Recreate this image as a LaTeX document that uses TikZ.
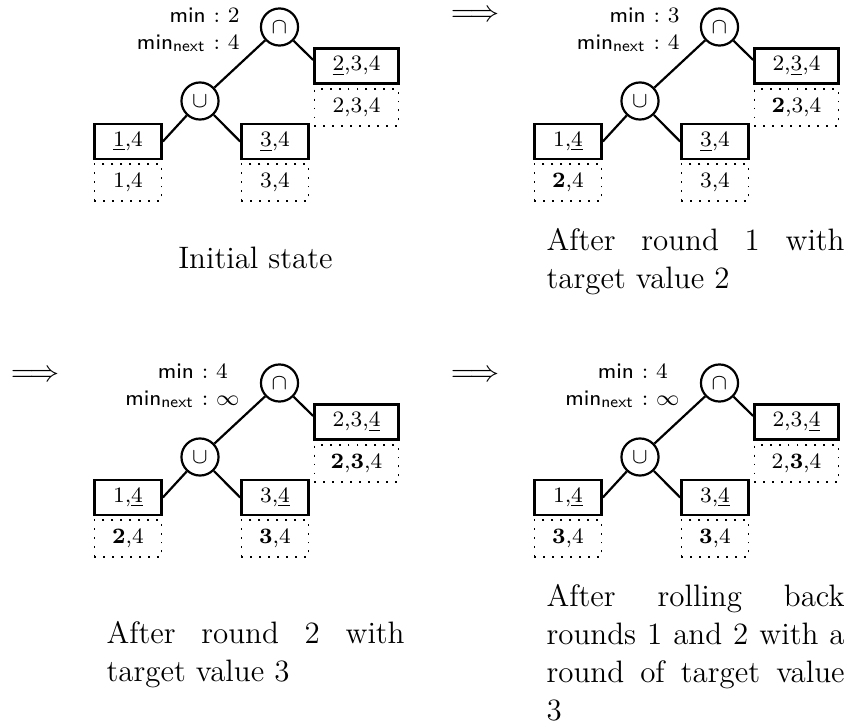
\documentclass[tikz,border=0pt]{standalone}
\usepackage{amsmath}
\newcommand{\capfont}{\fontsize{11.28}{13.9}\selectfont\hyphenpenalty=10000\relax}
\newcommand{\arrowfont}{\fontsize{10.5}{12.6}\selectfont}
\newcommand{\smallfont}{\fontsize{8}{9.5}\selectfont}
\tikzset{
  setop/.style={circle, draw, line width=0.8pt, minimum size=13.5pt, inner sep=0pt, font=\smallfont},
  valbox/.style={draw, line width=0.95pt, minimum height=12.7pt, inner sep=0pt, font=\smallfont},
  histbox/.style={draw, line width=0.7pt, dash pattern=on 0.7pt off 2.55pt, minimum height=13.3pt, inner sep=0pt, font=\smallfont},
  minlabel/.style={anchor=base east, inner sep=0pt, font=\smallfont},
  edge/.style={line width=0.8pt},
  caption/.style={font=\capfont, inner sep=0pt},
  longcap/.style={caption, text width=108.5pt, align=justify, anchor=north west},
  stepto/.style={font=\arrowfont, inner sep=0pt},
}
% One tree: #1 name prefix, #2 min, #3 min_next, #4..#9 leaf boxes (value / history)
\newcommand{\treepanel}[9]{%
\begin{scope}[name prefix=#1-]
  \node[setop] (cap) at (279.5,27) {$\cap$};
  \node[setop] (cup) at (200,101) {$\cup$};
  \node[valbox, minimum width=24.4pt] (b1) at (128,141.5) {#4};
  \node[histbox, minimum width=24.4pt] (d1) at (128,182.5) {#5};
  \node[valbox, minimum width=24.4pt] (b2) at (275,141.5) {#6};
  \node[histbox, minimum width=24.4pt] (d2) at (275,182.5) {#7};
  \node[valbox, minimum width=30.6pt] (b3) at (356.5,66) {#8};
  \node[histbox, minimum width=30.6pt] (d3) at (356.5,107.3) {#9};
  \node[minlabel] (mins) at (240,23) {\begin{tabular}[t]{@{}r@{\ :\ }l@{}}\textsf{min} & #2\\ \textsf{min}$_{\mathsf{next}}$ & #3\end{tabular}};
  \draw[edge] (cap) -- (cup);
  \draw[edge] (cup) -- (b1.east);
  \draw[edge] (cup) -- (b2.west);
  \draw[edge] (cap) -- ([yshift=2.2pt]b3.west);
\end{scope}}
\begin{document}
\begin{tikzpicture}[x=0.364pt, y=-0.364pt]
  \useasboundingbox (0,0) rectangle (848,728);

  % initial state
  \treepanel{p1}{2}{4}{\underline{1},4}{1,4}{\underline{3},4}{3,4}{\underline{2},3,4}{2,3,4}
  \node[caption, anchor=base] (c1) at (255.5,269) {Initial state};

  % after round 1
  \node[stepto] (a1) at (475,16) {$\Longrightarrow$};
  \begin{scope}[shift={(440,0)}]
    \treepanel{p2}{3}{4}{1,\underline{4}}{\textbf{2},4}{\underline{3},4}{3,4}{2,\underline{3},4}{\textbf{2},3,4}
  \end{scope}
  \node[longcap] (c2) at (546,227.5) {After round 1 with target value 2};

  % after round 2
  \node[stepto] (a2) at (35,376) {$\Longrightarrow$};
  \begin{scope}[shift={(0,356)}]
    \treepanel{p3}{4}{$\infty$}{1,\underline{4}}{\textbf{2},4}{3,\underline{4}}{\textbf{3},4}{2,3,\underline{4}}{\textbf{2},\textbf{3},4}
  \end{scope}
  \node[longcap] (c3) at (106,620.5) {After round 2 with target value 3};

  % after rolling back
  \node[stepto] (a3) at (475,376) {$\Longrightarrow$};
  \begin{scope}[shift={(440,356)}]
    \treepanel{p4}{4}{$\infty$}{1,\underline{4}}{\textbf{3},4}{3,\underline{4}}{\textbf{3},4}{2,3,\underline{4}}{2,\textbf{3},4}
  \end{scope}
  \node[longcap] (c4) at (546,583.5) {After rolling back rounds 1 and 2 with a round of target value 3};
\end{tikzpicture}
\end{document}
